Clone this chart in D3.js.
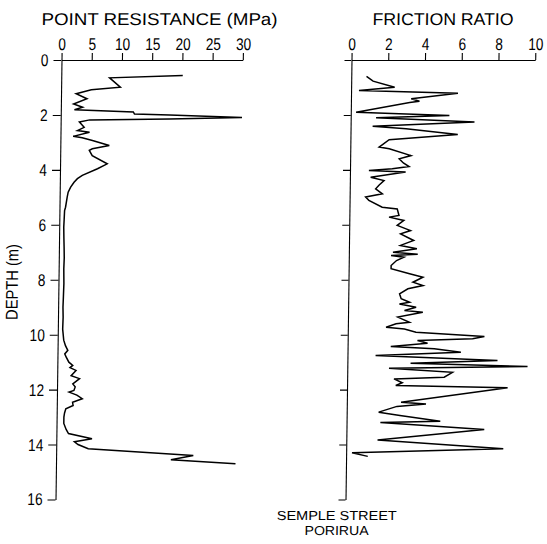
<!DOCTYPE html>
<html>
<head>
<meta charset="utf-8">
<script src="https://cdn.jsdelivr.net/npm/d3@7/dist/d3.min.js"></script>
<style>
  body { margin: 0; background: #fff; }
  text { font-family: "Liberation Sans", Arial, sans-serif; fill: #000; }
</style>
</head>
<body>
<svg id="chart" width="547" height="544"></svg>
<script>
// Axis ticks
const depthTicks = [0, 2, 4, 6, 8, 10, 12, 14, 16];
const resistanceTicks = [0, 5, 10, 15, 20, 25, 30];
const frictionTicks = [0, 2, 4, 6, 8, 10];

// Cone penetration log, Semple Street, Porirua
// Point resistance (MPa) against depth (m)
const resistanceDepth = [0.56, 0.65, 0.99, 1.08, 1.23, 1.41, 1.60, 1.72, 1.81, 1.89, 1.97, 2.00, 2.09, 2.15, 2.18,
  2.26, 2.45, 2.57, 2.63, 2.78, 2.83, 2.93, 3.11, 3.23, 3.29, 3.48, 3.78, 3.96, 4.20, 4.32, 4.45, 4.63, 4.81,
  4.99, 5.36, 5.48, 5.80, 6.09, 6.50, 6.80, 7.20, 7.60, 8.14, 8.60, 9.00, 9.36, 9.80, 10.20, 10.40, 10.57,
  10.70, 10.82, 11.00, 11.12, 11.20, 11.30, 11.49, 11.60, 11.79, 11.90, 12.03, 12.09, 12.20, 12.33, 12.46,
  12.58, 12.70, 12.85, 13.00, 13.23, 13.45, 13.60, 13.79, 13.90, 14.00, 14.15, 14.40, 14.55, 14.70];
const resistanceValue = [20.1, 8.0, 9.8, 5.0, 2.5, 4.3, 2.1, 3.6, 2.25, 12.0, 12.2, 18.0, 30.0, 18.0, 4.8,
  3.1, 3.9, 2.8, 4.8, 2.1, 3.6, 5.3, 8.1, 5.3, 4.8, 5.3, 7.8, 6.2, 3.7, 2.9, 2.35, 1.8, 1.4,
  1.25, 1.0, 0.85, 0.8, 0.75, 0.8, 0.85, 0.9, 0.85, 0.9, 0.85, 0.8, 0.85, 0.8, 1.0, 1.3, 1.7,
  1.2, 1.45, 1.9, 2.55, 2.1, 3.1, 2.3, 3.7, 2.6, 3.0, 2.8, 2.0, 3.3, 4.2, 2.6,
  2.7, 1.5, 1.3, 1.2, 1.2, 1.6, 2.0, 5.9, 3.0, 3.6, 5.3, 22.7, 19.0, 29.7];

// Friction ratio (%) against depth (m)
const frictionDepth = [0.60, 0.77, 0.99, 1.11, 1.21, 1.41, 1.50, 1.55, 1.90, 2.02, 2.10, 2.26, 2.41, 2.50, 2.71,
  2.90, 3.17, 3.23, 3.48, 3.60, 3.75, 3.88, 3.96, 4.02, 4.08, 4.27, 4.39, 4.55, 4.69, 4.87, 4.99, 5.11, 5.36,
  5.42, 5.66, 5.72, 5.84, 6.02, 6.21, 6.33, 6.57, 6.75, 6.87, 7.00, 7.07, 7.12, 7.18, 7.30, 7.48, 7.60, 7.78,
  7.91, 8.09, 8.21, 8.33, 8.51, 8.69, 8.82, 8.88, 9.00, 9.12, 9.18, 9.36, 9.55, 9.60, 9.73, 9.79, 9.91,
  10.07, 10.15, 10.21, 10.31, 10.43, 10.51, 10.64, 10.76, 10.94, 11.04, 11.16, 11.22, 11.37, 11.55, 11.61,
  11.75, 11.85, 11.93, 12.46, 12.52, 12.61, 12.82, 12.94, 13.15, 13.20, 13.45, 13.83, 14.15, 14.30, 14.43];
const frictionValue = [0.83, 1.19, 2.37, 0.43, 5.82, 3.28, 3.73, 3.2, 0.29, 5.37, 1.38, 6.74, 1.2, 3.02, 5.84,
  2.11, 1.57, 2.12, 3.31, 2.67, 2.9, 3.21, 2.3, 1.03, 3.03, 1.13, 1.86, 1.6, 1.41, 1.78, 0.87, 1.05, 1.78,
  2.6, 2.7, 2.16, 2.97, 2.61, 3.34, 2.8, 3.52, 2.8, 3.7, 2.4, 3.75, 2.3, 3.0, 2.6, 2.31, 2.31, 3.32,
  4.05, 3.51, 4.06, 3.24, 2.79, 2.88, 3.34, 2.79, 3.7, 3.07, 4.07, 2.71, 3.35, 2.62, 2.08, 3.08, 3.71,
  7.44, 6.8, 3.8, 4.35, 2.35, 4.72, 6.17, 1.53, 8.17, 3.44, 9.81, 2.27, 5.73, 5.28, 2.55,
  3.0, 2.65, 8.74, 2.95, 4.31, 2.73, 1.74, 2.9, 5.1, 1.84, 7.5, 1.7, 8.55, 0.32, 1.18];

const svg = d3.select("#chart");

// The plotted sheet leans very slightly; shear the drawing to follow it
const lean = 0.78;
const root = svg.append("g")
  .attr("transform", `translate(${60 * Math.tan(lean * Math.PI / 180)},0) skewX(${-lean})`);

const y = d3.scaleLinear().domain([0, 16]).range([60, 499.5]);
const xRes = d3.scaleLinear().domain([0, 30]).range([61.5, 242.8]);
const xFric = d3.scaleLinear().domain([0, 10]).range([351.5, 535.2]);

function styleAxis(g) {
  g.selectAll("path.domain").attr("stroke", "#000").attr("stroke-width", 1.1);
  g.selectAll(".tick line").attr("stroke", "#000").attr("stroke-width", 1.1);
  g.selectAll(".tick text")
    .attr("font-family", "Liberation Sans, Arial, sans-serif")
    .attr("font-size", 17)
    .attr("fill", "#000");
}

// Point resistance panel
root.append("g")
  .attr("transform", `translate(0,${y(0)})`)
  .call(d3.axisTop(xRes).tickValues(resistanceTicks).tickSize(7).tickSizeOuter(0).tickPadding(3))
  .call(styleAxis)
  .call(g => g.selectAll(".tick text").attr("transform", "scale(0.8,1)"));

root.append("g")
  .attr("transform", `translate(${xRes(0)},0)`)
  .call(d3.axisLeft(y).tickValues(depthTicks).tickSize(8).tickSizeOuter(0).tickPadding(5))
  .call(styleAxis)
  .call(g => g.selectAll(".tick text").attr("transform", "scale(0.8,1)").attr("x", -13 / 0.8));

// Friction ratio panel
root.append("g")
  .attr("transform", `translate(0,${y(0)})`)
  .call(d3.axisTop(xFric).tickValues(frictionTicks).tickSize(7).tickSizeOuter(0).tickPadding(3))
  .call(styleAxis)
  .call(g => g.selectAll(".tick text").attr("transform", "scale(0.8,1)"));

root.append("g")
  .attr("transform", `translate(${xFric(0)},0)`)
  .call(d3.axisLeft(y).tickValues(depthTicks).tickSize(7).tickSizeOuter(0).tickFormat(""))
  .call(styleAxis);

// Traces
const resLine = d3.line()
  .x((d, i) => xRes(resistanceValue[i]))
  .y((d, i) => y(resistanceDepth[i]));
const fricLine = d3.line()
  .x((d, i) => xFric(frictionValue[i]))
  .y((d, i) => y(frictionDepth[i]));

root.append("path")
  .attr("d", resLine(resistanceDepth))
  .attr("fill", "none").attr("stroke", "#000").attr("stroke-width", 1.5)
  .attr("stroke-linejoin", "miter");
root.append("path")
  .attr("d", fricLine(frictionDepth))
  .attr("fill", "none").attr("stroke", "#000").attr("stroke-width", 1.5)
  .attr("stroke-linejoin", "miter");

// Titles and labels
root.append("text")
  .attr("x", 41).attr("y", 25)
  .attr("font-size", 17)
  .attr("textLength", 236).attr("lengthAdjust", "spacingAndGlyphs")
  .text("POINT RESISTANCE (MPa)");

root.append("text")
  .attr("x", 372).attr("y", 25)
  .attr("font-size", 17)
  .attr("textLength", 141).attr("lengthAdjust", "spacingAndGlyphs")
  .text("FRICTION RATIO");

root.append("text")
  .attr("transform", "translate(21,282) rotate(-90)")
  .attr("text-anchor", "middle")
  .attr("font-size", 17)
  .attr("textLength", 76).attr("lengthAdjust", "spacingAndGlyphs")
  .text("DEPTH (m)");

root.append("text")
  .attr("x", 283).attr("y", 520)
  .attr("font-size", 13)
  .attr("textLength", 120).attr("lengthAdjust", "spacingAndGlyphs")
  .text("SEMPLE STREET");

root.append("text")
  .attr("x", 311).attr("y", 535)
  .attr("font-size", 13)
  .attr("textLength", 64).attr("lengthAdjust", "spacingAndGlyphs")
  .text("PORIRUA");
</script>
</body>
</html>
